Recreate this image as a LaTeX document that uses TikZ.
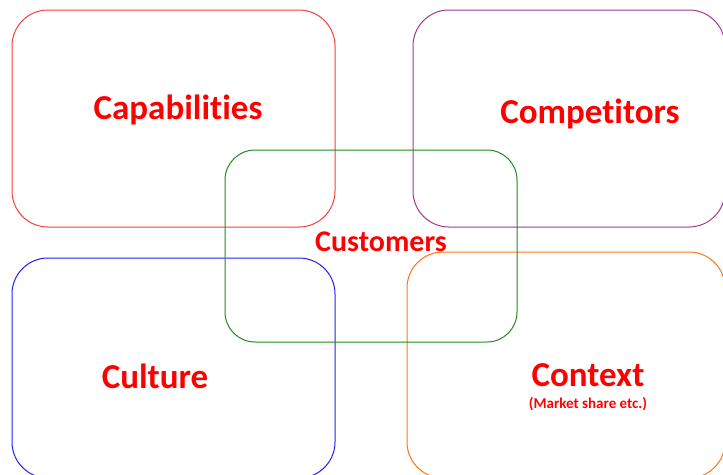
\documentclass[tikz,border=0pt]{standalone}
\usepackage{fontspec}
\setmainfont{Carlito}[Ligatures=NoCommon]
\usepackage{tikz}
\usetikzlibrary{positioning}
\definecolor{labelred}{HTML}{FF0000}
\definecolor{capred}{HTML}{FF3B3B}
\definecolor{comppurple}{HTML}{9C3A9C}
\definecolor{custgreen}{HTML}{1E8A1E}
\definecolor{cultblue}{HTML}{2020FF}
\definecolor{contorange}{HTML}{FF7414}
\tikzset{
  frame/.style={rounded corners=36pt, line width=1pt},
  title/.style={text=labelred, font=\bfseries\fontsize{35}{40}\selectfont, inner sep=0pt},
  midtitle/.style={text=labelred, font=\bfseries\fontsize{30}{34}\selectfont, inner sep=0pt},
  note/.style={text=labelred, font=\bfseries\fontsize{15}{18}\selectfont, inner sep=0pt},
}

\begin{document}
\begin{tikzpicture}[x=1pt,y=-1pt]
  \useasboundingbox (0,0) rectangle (723,474);
  % the five boxes
  \draw[frame,capred] (12,10) rectangle (335,227);
  \draw[frame,comppurple] (413,10) rectangle (725,227);
  \draw[frame,cultblue] (12,258) rectangle (335,478);
  \draw[frame,contorange] (407,252) rectangle (725,478);
  \draw[frame,custgreen,rounded corners=30pt] (225,150) rectangle (517,342);
  % labels
  \node[title] (capabilities) at (178,110) {Capabilities};
  \node[title] (competitors) at (590,114) {Competitors};
  \node[midtitle] (customers) at (381,242) {Customers};
  \node[title] (culture) at (155,376) {Culture};
  \node[title] (context) at (588,375) {Context};
  \node[note,below=10pt of context] (share) {(Market share etc.)};
\end{tikzpicture}
\end{document}
